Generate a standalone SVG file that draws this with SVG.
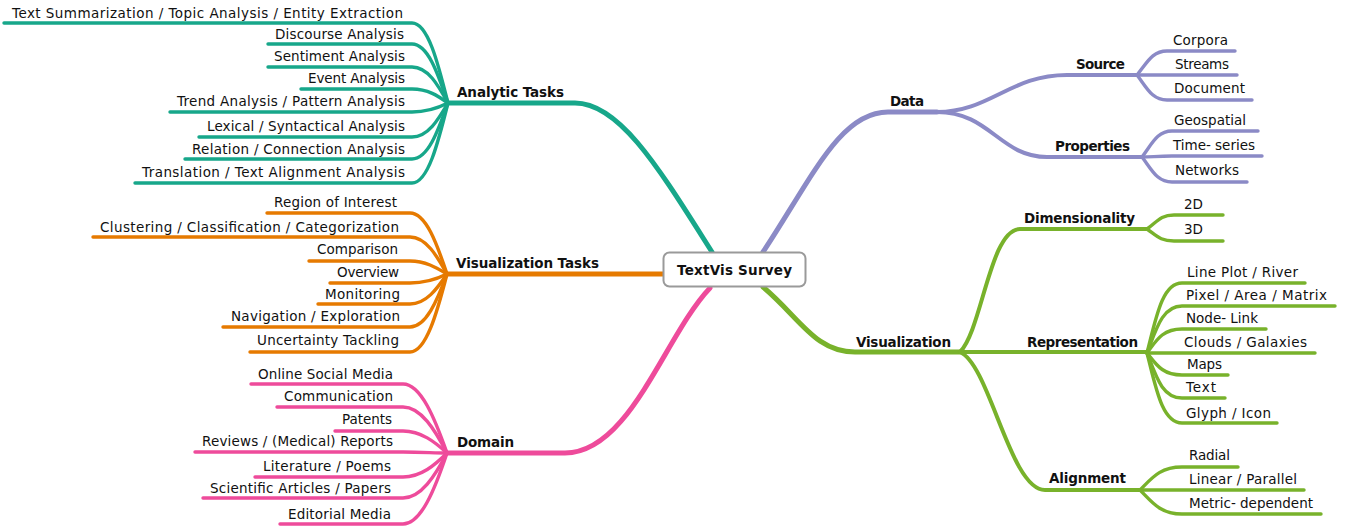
<svg xmlns="http://www.w3.org/2000/svg" width="1349" height="526" viewBox="0 0 1349 526">
  <style>
    .t { font-family: "DejaVu Sans", "Liberation Sans", sans-serif; font-size: 13.5px; fill: #111; }
    .b { font-family: "DejaVu Sans", "Liberation Sans", sans-serif; font-size: 13.5px; font-weight: bold; fill: #111; }
    .e { text-anchor: end; }
    path { fill: none; stroke-linecap: round; stroke-linejoin: round; }
    .main { stroke-width: 5; }
    .sub { stroke-width: 4; }
    .leaf { stroke-width: 3.4; }
    .teal { stroke: #17a78a; }
    .orange { stroke: #e67a00; }
    .pink { stroke: #ee4b9b; }
    .purple { stroke: #8b8ac6; }
    .green { stroke: #78b22b; }
  </style>
  <rect width="1349" height="526" fill="#fff"/>

  <g id="connectors">
    <!-- Analytic Tasks -->
    <path class="main teal" d="M712,252 C660,170 620,103 575,103 H448"/>
    <path class="leaf teal" d="M4,23 H412 C428,23 438,63 448,103"/>
    <path class="leaf teal" d="M268,44 H412 C428,44 438,74 448,103"/>
    <path class="leaf teal" d="M268,67 H412 C428,67 438,85 448,103"/>
    <path class="leaf teal" d="M301,89 H412 C428,89 438,96 448,103"/>
    <path class="leaf teal" d="M170,112 H412 C428,112 438,108 448,103"/>
    <path class="leaf teal" d="M199,137 H412 C428,137 438,120 448,103"/>
    <path class="leaf teal" d="M185,159 H412 C428,159 438,131 448,103"/>
    <path class="leaf teal" d="M135,183 H412 C428,183 438,143 448,103"/>

    <!-- Visualization Tasks -->
    <path class="main orange" d="M447,274 H663"/>
    <path class="leaf orange" d="M267,213 H410 C426,213 437,244 447,274"/>
    <path class="leaf orange" d="M93,237 H410 C426,237 437,256 447,274"/>
    <path class="leaf orange" d="M309,261 H410 C426,261 437,268 447,274"/>
    <path class="leaf orange" d="M330,283 H410 C426,283 437,279 447,274"/>
    <path class="leaf orange" d="M318,304 H410 C426,304 437,289 447,274"/>
    <path class="leaf orange" d="M223,327 H410 C426,327 437,301 447,274"/>
    <path class="leaf orange" d="M250,352 H410 C426,352 437,313 447,274"/>

    <!-- Domain -->
    <path class="main pink" d="M710,288 C665,335 630,453 565,453 H447"/>
    <path class="leaf pink" d="M251,384 H403 C421,384 435,419 447,453"/>
    <path class="leaf pink" d="M277,407 H403 C421,407 435,430 447,453"/>
    <path class="leaf pink" d="M335,431 H403 C421,431 435,442 447,453"/>
    <path class="leaf pink" d="M195,452 H403 C421,452 435,453 447,453"/>
    <path class="leaf pink" d="M255,477 H403 C421,477 435,465 447,453"/>
    <path class="leaf pink" d="M203,498 H403 C421,498 435,476 447,453"/>
    <path class="leaf pink" d="M280,524 H403 C421,524 435,489 447,453"/>

    <!-- Data -->
    <path class="main purple" d="M763,252 C812,178 840,112 888,112 H937"/>
    <path class="sub purple" d="M937,112 C990,112 1010,75 1067,75 H1137"/>
    <path class="sub purple" d="M937,112 C990,112 1000,157 1047,157 H1142"/>
    <path class="leaf purple" d="M1137,75 C1147,63 1152,51 1167,51 H1235"/>
    <path class="leaf purple" d="M1137,75 H1237"/>
    <path class="leaf purple" d="M1137,75 C1147,88 1152,100 1167,100 H1252"/>
    <path class="leaf purple" d="M1142,157 C1152,144 1157,131 1172,131 H1258"/>
    <path class="leaf purple" d="M1142,157 C1152,157 1157,156 1172,156 H1262"/>
    <path class="leaf purple" d="M1142,157 C1152,170 1157,182 1172,182 H1247"/>

    <!-- Visualization -->
    <path class="main green" d="M763,287 C800,318 815,352 855,352 H960"/>
    <path class="sub green" d="M960,352 C982,330 990,229 1020,229 H1147"/>
    <path class="sub green" d="M960,352 H1147"/>
    <path class="sub green" d="M960,352 C990,365 1010,490 1045,490 H1140"/>
    <path class="leaf green" d="M1147,229 C1157,222 1160,215 1174,215 H1223"/>
    <path class="leaf green" d="M1147,229 C1157,236 1160,241 1174,241 H1223"/>
    <path class="leaf green" d="M1147,353 C1156,318 1162,283 1182,283 H1305"/>
    <path class="leaf green" d="M1147,353 C1156,330 1162,306 1182,306 H1335"/>
    <path class="leaf green" d="M1147,353 C1156,341 1162,329 1182,329 H1266"/>
    <path class="leaf green" d="M1147,353 H1315"/>
    <path class="leaf green" d="M1147,353 C1156,364 1162,375 1182,375 H1228"/>
    <path class="leaf green" d="M1147,353 C1156,376 1162,398 1182,398 H1225"/>
    <path class="leaf green" d="M1147,353 C1156,388 1162,423 1182,423 H1277"/>
    <path class="leaf green" d="M1140,490 C1152,478 1160,467 1182,467 H1238"/>
    <path class="leaf green" d="M1140,490 H1304"/>
    <path class="leaf green" d="M1140,490 C1152,502 1160,514 1182,514 H1321"/>
  </g>

  <!-- central topic -->
  <g id="root">
    <rect x="663.5" y="252.5" width="142" height="34" rx="6" fill="#fff" stroke="#9a9a9a" stroke-width="2"/>
    <text class="b" x="677" y="275" textLength="115">TextVis Survey</text>
  </g>

  <!-- Analytic Tasks -->
  <g id="analytic-tasks">
    <text class="b" x="457" y="97" textLength="107">Analytic Tasks</text>
  </g>
  <g id="analytic-leaves">
    <text class="t e" x="403" y="18" textLength="391">Text Summarization / Topic Analysis / Entity Extraction</text>
    <text class="t e" x="404" y="39" textLength="129">Discourse Analysis</text>
    <text class="t e" x="405" y="61" textLength="131">Sentiment Analysis</text>
    <text class="t e" x="405" y="83" textLength="97">Event Analysis</text>
    <text class="t e" x="405" y="106" textLength="228">Trend Analysis / Pattern Analysis</text>
    <text class="t e" x="405" y="131" textLength="198">Lexical / Syntactical Analysis</text>
    <text class="t e" x="405" y="154" textLength="213">Relation / Connection Analysis</text>
    <text class="t e" x="405" y="177" textLength="263">Translation / Text Alignment Analysis</text>
  </g>

  <!-- Visualization Tasks -->
  <g id="visualization-tasks">
    <text class="b" x="456" y="268" textLength="143">Visualization Tasks</text>
  </g>
  <g id="visualization-task-leaves">
    <text class="t e" x="397" y="207" textLength="123">Region of Interest</text>
    <text class="t e" x="399" y="232" textLength="299">Clustering / Classification / Categorization</text>
    <text class="t e" x="398" y="254" textLength="81">Comparison</text>
    <text class="t e" x="399" y="277" textLength="62">Overview</text>
    <text class="t e" x="400" y="299" textLength="75">Monitoring</text>
    <text class="t e" x="400" y="321" textLength="169">Navigation / Exploration</text>
    <text class="t e" x="399" y="345" textLength="142">Uncertainty Tackling</text>
  </g>

  <!-- Domain -->
  <g id="domain">
    <text class="b" x="457" y="447" textLength="57">Domain</text>
  </g>
  <g id="domain-leaves">
    <text class="t e" x="393" y="379" textLength="135">Online Social Media</text>
    <text class="t e" x="393" y="401" textLength="109">Communication</text>
    <text class="t e" x="392" y="424" textLength="50">Patents</text>
    <text class="t e" x="393" y="446" textLength="191">Reviews / (Medical) Reports</text>
    <text class="t e" x="391" y="471" textLength="128">Literature / Poems</text>
    <text class="t e" x="391" y="493" textLength="181">Scientific Articles / Papers</text>
    <text class="t e" x="391" y="519" textLength="103">Editorial Media</text>
  </g>

  <!-- Data -->
  <g id="data">
    <text class="b" x="890" y="106" textLength="34">Data</text>
  </g>
  <g id="source">
    <text class="b" x="1076" y="69" textLength="49">Source</text>
    <text class="t" x="1173" y="45" textLength="55">Corpora</text>
    <text class="t" x="1175" y="69" textLength="54">Streams</text>
    <text class="t" x="1174" y="93" textLength="71">Document</text>
  </g>
  <g id="properties">
    <text class="b" x="1055" y="151" textLength="75">Properties</text>
    <text class="t" x="1174" y="125" textLength="72">Geospatial</text>
    <text class="t" x="1173" y="150" textLength="82">Time- series</text>
    <text class="t" x="1175" y="175" textLength="64">Networks</text>
  </g>

  <!-- Visualization -->
  <g id="visualization">
    <text class="b" x="856" y="347" textLength="95">Visualization</text>
  </g>
  <g id="dimensionality">
    <text class="b" x="1024" y="223" textLength="111">Dimensionality</text>
    <text class="t" x="1184" y="209" textLength="19">2D</text>
    <text class="t" x="1184" y="234" textLength="19">3D</text>
  </g>
  <g id="representation">
    <text class="b" x="1027" y="347" textLength="111">Representation</text>
    <text class="t" x="1187" y="277" textLength="111">Line Plot / River</text>
    <text class="t" x="1186" y="300" textLength="141">Pixel / Area / Matrix</text>
    <text class="t" x="1186" y="323" textLength="72">Node- Link</text>
    <text class="t" x="1184" y="347" textLength="123">Clouds / Galaxies</text>
    <text class="t" x="1187" y="369" textLength="35">Maps</text>
    <text class="t" x="1186" y="392" textLength="30">Text</text>
    <text class="t" x="1186" y="418" textLength="85">Glyph / Icon</text>
  </g>
  <g id="alignment">
    <text class="b" x="1049" y="483" textLength="77">Alignment</text>
    <text class="t" x="1189" y="460" textLength="41">Radial</text>
    <text class="t" x="1189" y="484" textLength="108">Linear / Parallel</text>
    <text class="t" x="1189" y="508" textLength="124">Metric- dependent</text>
  </g>
</svg>
